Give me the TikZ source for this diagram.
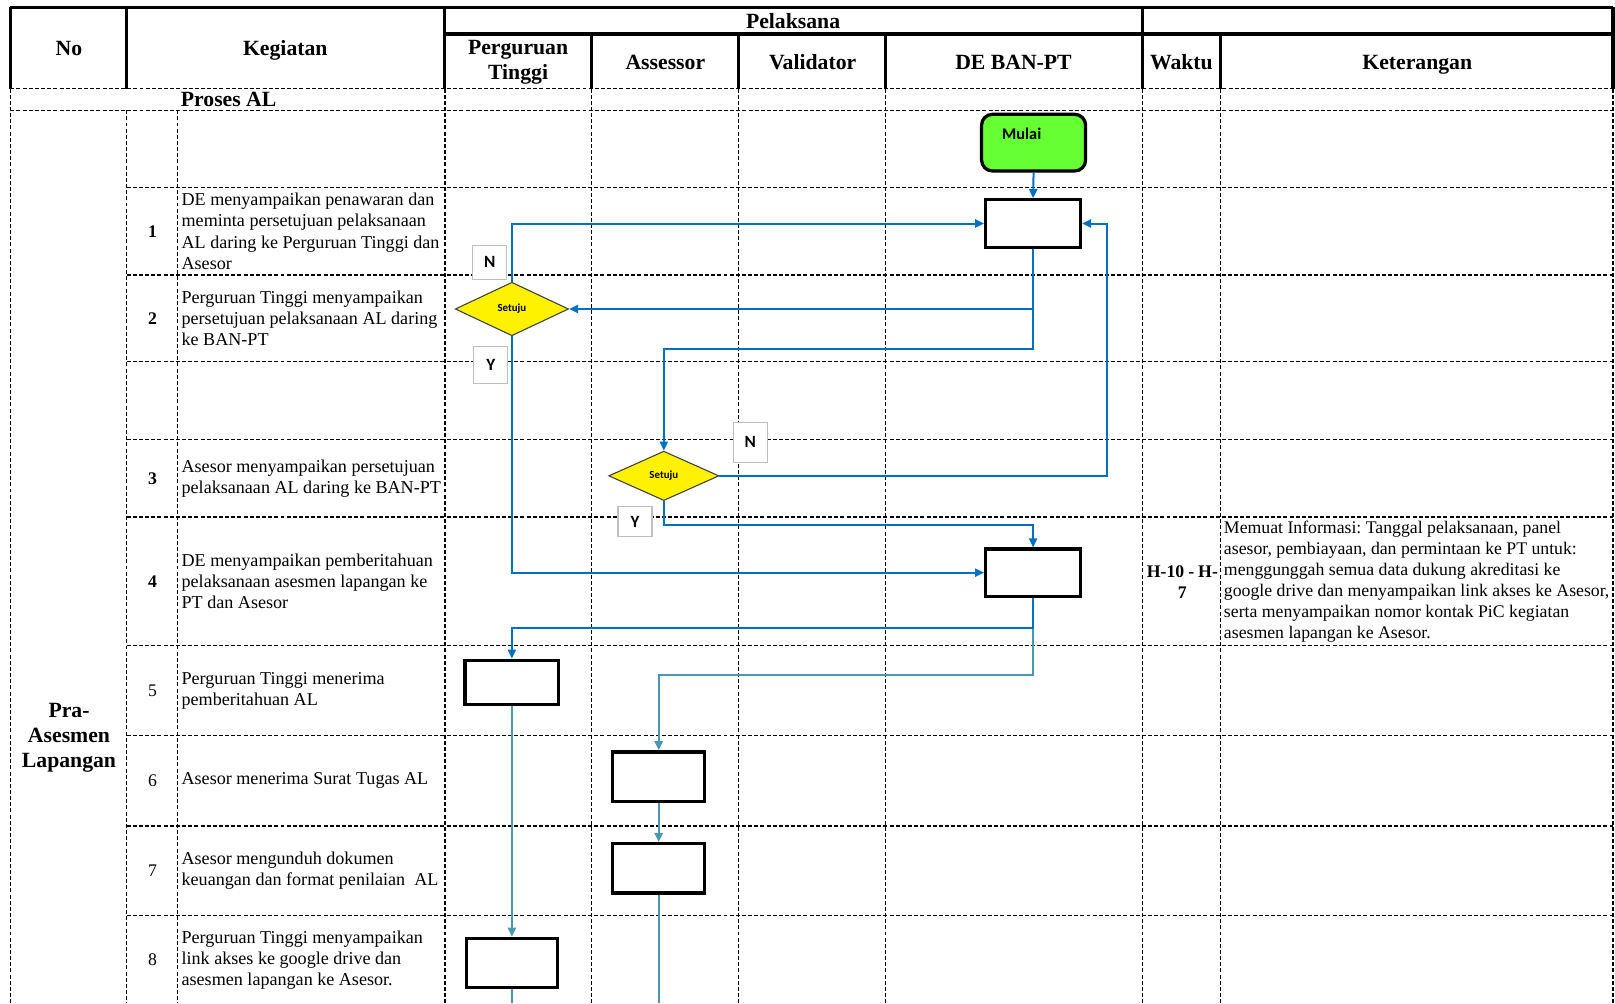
\documentclass[tikz,border=0pt]{standalone}
\usepackage{fontspec}
\setmainfont{Liberation Serif}
\newfontfamily\calibri{Carlito}
\usepackage{tikz}
\usetikzlibrary{shapes.geometric,arrows.meta,positioning}
\definecolor{alurbiru}{HTML}{0070C0}
\definecolor{alurteal}{HTML}{4A98B0}
\definecolor{hijaumulai}{HTML}{66FF33}
\frenchspacing

\begin{document}
\begin{tikzpicture}[x=0.02cm,y=-0.02cm,
  tebal/.style={line width=1.7pt},
  grs/.style={line width=0.7pt,dash pattern=on 2.2pt off 1.2pt},
  judul/.style={font=\bfseries\fontsize{12}{13.8}\selectfont,align=center,inner sep=0pt},
  jd/.style={judul,text height=1.55ex,text depth=0.45ex},
  isi/.style={font=\fontsize{10}{11.7}\selectfont,align=left,anchor=west,inner sep=0pt},
  nomor/.style={font=\fontsize{9.8}{11.6}\selectfont,inner sep=0pt},
  kotak/.style={draw,line width=1.8pt,fill=white,inner sep=0pt,minimum width=1.84cm,minimum height=0.92cm},
  putusan/.style={diamond,draw=black!75,line width=0.6pt,fill=yellow,inner sep=0pt,font=\calibri\bfseries\fontsize{6}{7}\selectfont},
  yn/.style={draw=black!25,line width=0.6pt,fill=white,inner sep=0pt,minimum width=0.66cm,font=\calibri\bfseries\fontsize{9.5}{10}\selectfont},
  alur/.style={alurbiru,line width=1.1pt,-{Triangle[length=5pt,width=4.5pt]}},
  alurt/.style={alurteal,line width=1.1pt,-{Triangle[length=5pt,width=4.5pt]}},
]
%
\useasboundingbox (0,0) rectangle (1568,974);
\fill[white] (0,0) rectangle (1568,974);
%
% kepala tabel
\draw[tebal] (10,7) -- (1566,7);
\draw[tebal] (432,33) -- (1566,33);
\draw[tebal] (10,7) -- (10,86);
\draw[tebal] (123,7) -- (123,86);
\draw[tebal] (432,7) -- (432,86);
\draw[tebal] (574,33) -- (574,86);
\draw[tebal] (717,33) -- (717,86);
\draw[tebal] (860,33) -- (860,86);
\draw[tebal] (1109,7) -- (1109,86);
\draw[tebal] (1185,33) -- (1185,86);
\draw[tebal] (1566,7) -- (1566,86);
%
% garis putus-putus
\draw[grs] (10,86) -- (1566,86);
\draw[grs] (10,107) -- (1566,107);
\foreach \y in {182,267,351,427,502,627,714,802,889}
  \draw[grs] (123,\y) -- (1566,\y);
\draw[grs] (10,86) -- (10,974);
\foreach \x in {123,172}
  \draw[grs] (\x,107) -- (\x,974);
\foreach \x in {432,574,717,860,1109,1185,1566}
  \draw[grs] (\x,86) -- (\x,974);
%
\node[jd] (hno) at (67,49) {No};
\node[jd] (hkeg) at (277,49) {Kegiatan};
\node[jd] (hpel) at (770,23) {Pelaksana};
\node[judul] (hpt) at (503,60) {Perguruan\\Tinggi};
\node[jd] (hass) at (646,63) {Assessor};
\node[jd] (hval) at (789,63) {Validator};
\node[jd] (hde) at (984,63) {DE BAN-PT};
\node[jd] (hwkt) at (1147,63) {Waktu};
\node[jd] (hket) at (1376,63) {Keterangan};
\node[jd] (proses) at (222,99) {Proses AL};
\node[judul] (tahap) at (67,716) {Pra-\\Asesmen\\Lapangan};
%
\node[nomor,font=\bfseries\fontsize{9.8}{11.6}\selectfont] (no1) at (148,224.5) {1};
\node[nomor,font=\bfseries\fontsize{9.8}{11.6}\selectfont] (no2) at (148,309) {2};
\node[nomor,font=\bfseries\fontsize{9.8}{11.6}\selectfont] (no3) at (148,464.5) {3};
\node[nomor,font=\bfseries\fontsize{9.8}{11.6}\selectfont] (no4) at (148,564.5) {4};
\node[nomor] (no5) at (148,670.5) {5};
\node[nomor] (no6) at (148,758) {6};
\node[nomor] (no7) at (148,845.5) {7};
\node[nomor] (no8) at (148,932) {8};
%
\node[isi] (keg1) at (176,224.5) {DE menyampaikan penawaran dan\\meminta persetujuan pelaksanaan\\AL daring ke Perguruan Tinggi dan\\Asesor};
\node[isi] (keg2) at (176,309) {Perguruan Tinggi menyampaikan\\persetujuan pelaksanaan AL daring\\ke BAN-PT};
\node[isi] (keg3) at (176,464.5) {Asesor menyampaikan persetujuan\\pelaksanaan AL daring ke BAN-PT};
\node[isi] (keg4) at (176,564.5) {DE menyampaikan pemberitahuan\\pelaksanaan asesmen lapangan ke\\PT dan Asesor};
\node[isi] (keg5) at (176,670.5) {Perguruan Tinggi menerima\\pemberitahuan AL};
\node[isi] (keg6) at (176,758) {Asesor menerima Surat Tugas AL};
\node[isi] (keg7) at (176,845.5) {Asesor mengunduh dokumen\\keuangan dan format penilaian~~AL};
\node[isi] (keg8) at (176,932) {Perguruan Tinggi menyampaikan\\link akses ke google drive dan\\asesmen lapangan ke Asesor.};
%
\node[nomor,font=\bfseries\fontsize{9.8}{11.6}\selectfont,align=center] (wkt4) at (1148,565) {\makebox[1.38cm][s]{H-10\hfill-\hfill H-}\\7};
\node[isi,font=\fontsize{9.8}{11.6}\selectfont] (ket4) at (1188,564.5) {Memuat Informasi: Tanggal pelaksanaan, panel\\asesor, pembiayaan, dan permintaan ke PT untuk:\\menggunggah semua data dukung akreditasi ke\\google drive dan menyampaikan link akses ke Asesor,\\serta menyampaikan nomor kontak PiC kegiatan\\asesmen lapangan ke Asesor.};
%
% bagan alir
\node[draw,line width=1.8pt,fill=hijaumulai,rounded corners=6pt,minimum width=2.02cm,minimum height=1.1cm,
  label={[font=\calibri\bfseries\fontsize{9}{10}\selectfont,xshift=-0.23cm,yshift=0.17cm]center:Mulai}] (mulai) at (1003.5,138.5) {};
\node[kotak] (k1) at (1003,217) {};
\node[putusan,minimum width=2.2cm,minimum height=1.04cm] (d1) at (497,300) {Setuju};
\node[yn,minimum height=0.66cm] (n1) at (475.5,254.5) {N};
\node[yn,minimum height=0.72cm] (y1) at (476.5,354) {Y};
\node[putusan,minimum width=2.14cm,minimum height=0.96cm] (d2) at (644.5,462) {Setuju};
\node[yn,minimum height=0.78cm] (n2) at (728.5,429.5) {N};
\node[yn,minimum height=0.58cm] (y2) at (616.5,506.5) {Y};
\node[kotak] (k2) at (1003,556) {};
\node[kotak,minimum width=1.82cm,minimum height=0.86cm] (k3) at (497,662.5) {};
\node[kotak,minimum width=1.78cm,minimum height=0.96cm] (k4) at (639.5,754) {};
\node[kotak,minimum width=1.78cm,minimum height=0.96cm] (k5) at (639.5,843) {};
\node[kotak,minimum width=1.76cm,minimum height=0.96cm] (k6) at (497,935) {};
%
\coordinate (y339) at (0,339);
\coordinate (y510) at (0,510);
\coordinate (y610) at (0,610);
\coordinate (y655) at (0,655);
\coordinate (x1075) at (1075,0);
\coordinate (akhir5) at (639.5,974);
\coordinate (akhir6) at (497,974);
%
\draw[alurt] (k2.south) |- (k4.north |- y655) -- (k4.north);
\draw[alurt] (k3.south) -- (k6.north);
\draw[alurt] (k4.south) -- (k5.north);
\draw[alurt,-] (k5.south) -- (akhir5);
\draw[alurt,-] (k6.south) -- (akhir6);
%
\draw[alur] (mulai.south) -- (k1.north);
\draw[alur] (d1.north) |- (k1.west);
\draw[alur] (k1.south) |- (d1.east);
\draw[alur] (k1.south) -- (k1.south |- y339) -| (d2.north);
\draw[alur] (d2.east) -- (d2.east -| x1075) |- (k1.east);
\draw[alur] (d2.south) |- (k2.north |- y510) -- (k2.north);
\draw[alur] (d1.south) |- (k2.west);
\draw[alur] (k2.south) |- (k3.north |- y610) -- (k3.north);
%
\end{tikzpicture}
\end{document}
